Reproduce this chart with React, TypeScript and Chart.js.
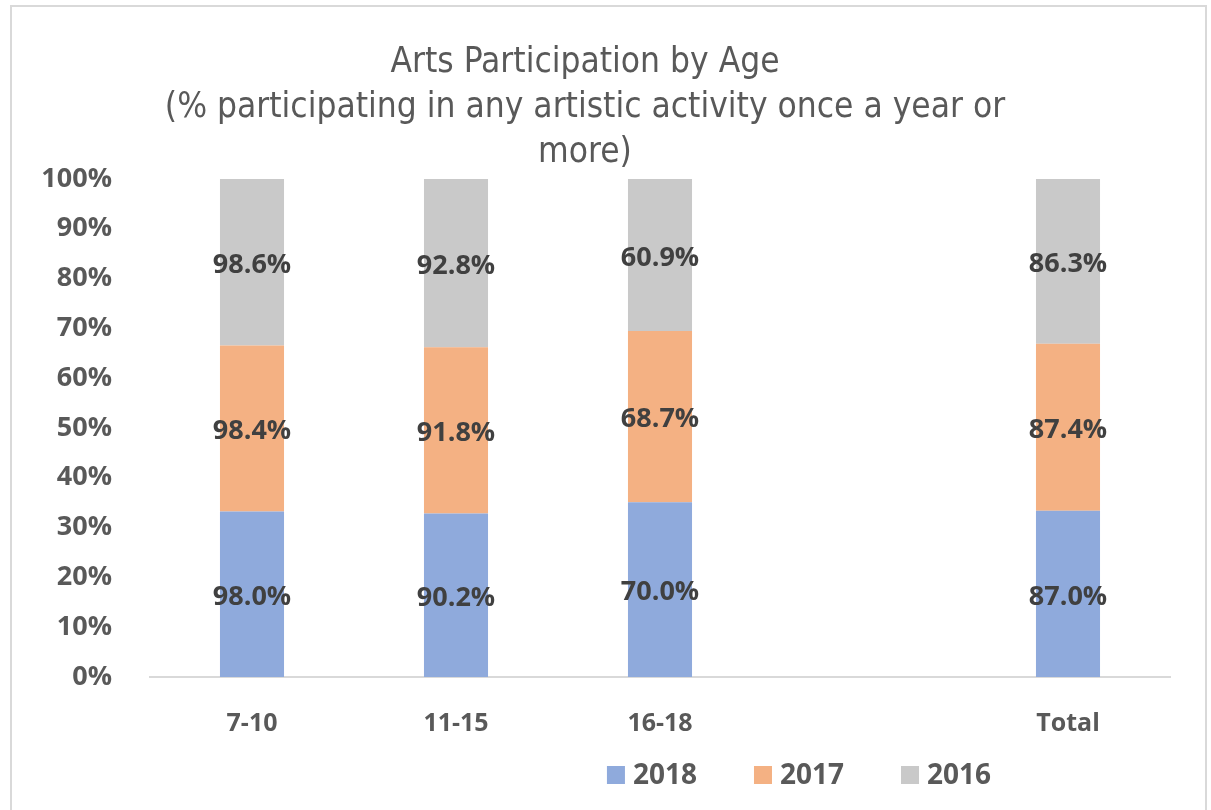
import React, { useEffect, useRef } from "react";
import { Chart, registerables } from "chart.js";

Chart.register(...registerables);

const categories = ["7-10", "11-15", "16-18", "", "Total"];
const seriesNames = ["2018", "2017", "2016"];
const values2018 = [98.0, 90.2, 70.0, null, 87.0];
const values2017 = [98.4, 91.8, 68.7, null, 87.4];
const values2016 = [98.6, 92.8, 60.9, null, 86.3];
const seriesColors = ["#8FAADC", "#F4B183", "#C9C9C9"];
const yTickValues = [0, 10, 20, 30, 40, 50, 60, 70, 80, 90, 100];
const titleLines = [
  "Arts Participation by Age",
  "(% participating in any artistic activity once a year or",
  "more)",
];

const LABEL_FONT = "'Open Sans', 'DejaVu Sans', sans-serif";
const TITLE_FONT = "'Liberation Sans Narrow', 'DejaVu Sans Condensed', sans-serif";

function shares(series: (number | null)[][]): (number | null)[][] {
  return series.map((s) =>
    s.map((v, i) => {
      if (v === null) return null;
      const total = series.reduce((acc, t) => acc + (t[i] ?? 0), 0);
      return (v / total) * 100;
    })
  );
}

const dataLabelPlugin = {
  id: "dataLabels",
  afterDatasetsDraw(chart: any) {
    const ctx = chart.ctx;
    ctx.save();
    ctx.font = `bold 27px ${LABEL_FONT}`;
    ctx.fillStyle = "#404040";
    ctx.textAlign = "center";
    ctx.textBaseline = "middle";
    chart.data.datasets.forEach((ds: any, di: number) => {
      const meta = chart.getDatasetMeta(di);
      meta.data.forEach((bar: any, i: number) => {
        const raw = ds.rawValues[i];
        if (raw === null || raw === undefined) return;
        const y = (bar.y + bar.base) / 2 + 3;
        ctx.fillText(raw.toFixed(1) + "%", bar.x, y);
      });
    });
    ctx.restore();
  },
};

const legendPlugin = {
  id: "customLegend",
  afterDraw(chart: any) {
    const ctx = chart.ctx;
    ctx.save();
    ctx.font = `bold 28px ${LABEL_FONT}`;
    ctx.textBaseline = "middle";
    ctx.textAlign = "left";
    const box = 18;
    const gap = 8;
    const itemGap = 57;
    const items = chart.data.datasets.map((ds: any) => ({
      label: ds.label,
      color: ds.backgroundColor,
      w: ctx.measureText(ds.label).width,
    }));
    const total =
      items.reduce((a: number, it: any) => a + box + gap + it.w, 0) +
      itemGap * (items.length - 1);
    const centerX = 799;
    const cy = 775;
    let x = centerX - total / 2;
    items.forEach((it: any) => {
      ctx.fillStyle = it.color;
      ctx.fillRect(x, cy - box / 2, box, box);
      ctx.fillStyle = "#595959";
      ctx.fillText(it.label, x + box + gap, cy + 1);
      x += box + gap + it.w + itemGap;
    });
    ctx.restore();
  },
};

export default function App() {
  const canvasRef = useRef<HTMLCanvasElement | null>(null);

  useEffect(() => {
    if (!canvasRef.current) return;
    const rawSeries = [values2018, values2017, values2016];
    const normalized = shares(rawSeries);
    const chart = new Chart(canvasRef.current, {
      type: "bar",
      data: {
        labels: categories,
        datasets: seriesNames.map((name, i) => ({
          label: name,
          data: normalized[i],
          rawValues: rawSeries[i],
          backgroundColor: seriesColors[i],
          borderWidth: 0,
          categoryPercentage: 1,
          barPercentage: 0.314,
        })) as any,
      },
      options: {
        animation: false,
        responsive: false,
        maintainAspectRatio: false,
        layout: { padding: { top: 0, right: 41, left: 0, bottom: 0 } },
        plugins: {
          legend: { display: false },
          tooltip: { enabled: false },
          title: {
            display: true,
            text: titleLines,
            color: "#595959",
            font: { family: TITLE_FONT, size: 35, weight: "normal", lineHeight: 45 / 35 },
            padding: { top: 40, bottom: 4 },
          },
        },
        scales: {
          x: {
            stacked: true,
            grid: { display: false },
            border: { display: true, color: "#D9D9D9", width: 2 },
            ticks: {
              color: "#595959",
              font: { family: LABEL_FONT, size: 25, weight: "bold" },
              padding: 24,
              maxRotation: 0,
              autoSkip: false,
            },
            afterFit(scale: any) {
              scale.height = 133;
            },
          },
          y: {
            stacked: true,
            min: 0,
            max: 100,
            grid: { display: false },
            border: { display: false },
            afterBuildTicks(scale: any) {
              scale.ticks = yTickValues.map((v) => ({ value: v }));
            },
            ticks: {
              color: "#595959",
              font: { family: LABEL_FONT, size: 27, weight: "bold" },
              padding: 30,
              callback: (v: any) => `${v}%`,
            },
            afterFit(scale: any) {
              scale.width = 150;
            },
          },
        },
      },
      plugins: [dataLabelPlugin, legendPlugin],
    });
    return () => chart.destroy();
  }, []);

  return (
    <div
      style={{
        position: "absolute",
        left: 0,
        top: 0,
        width: 1211,
        height: 810,
        overflow: "hidden",
        background: "#ffffff",
      }}
    >
      <canvas ref={canvasRef} width={1211} height={810} style={{ display: "block" }} />
      <div
        style={{
          position: "absolute",
          left: 10,
          top: 5,
          width: 1193,
          height: 830,
          border: "2px solid #D9D9D9",
          boxSizing: "content-box",
          pointerEvents: "none",
        }}
      />
    </div>
  );
}
